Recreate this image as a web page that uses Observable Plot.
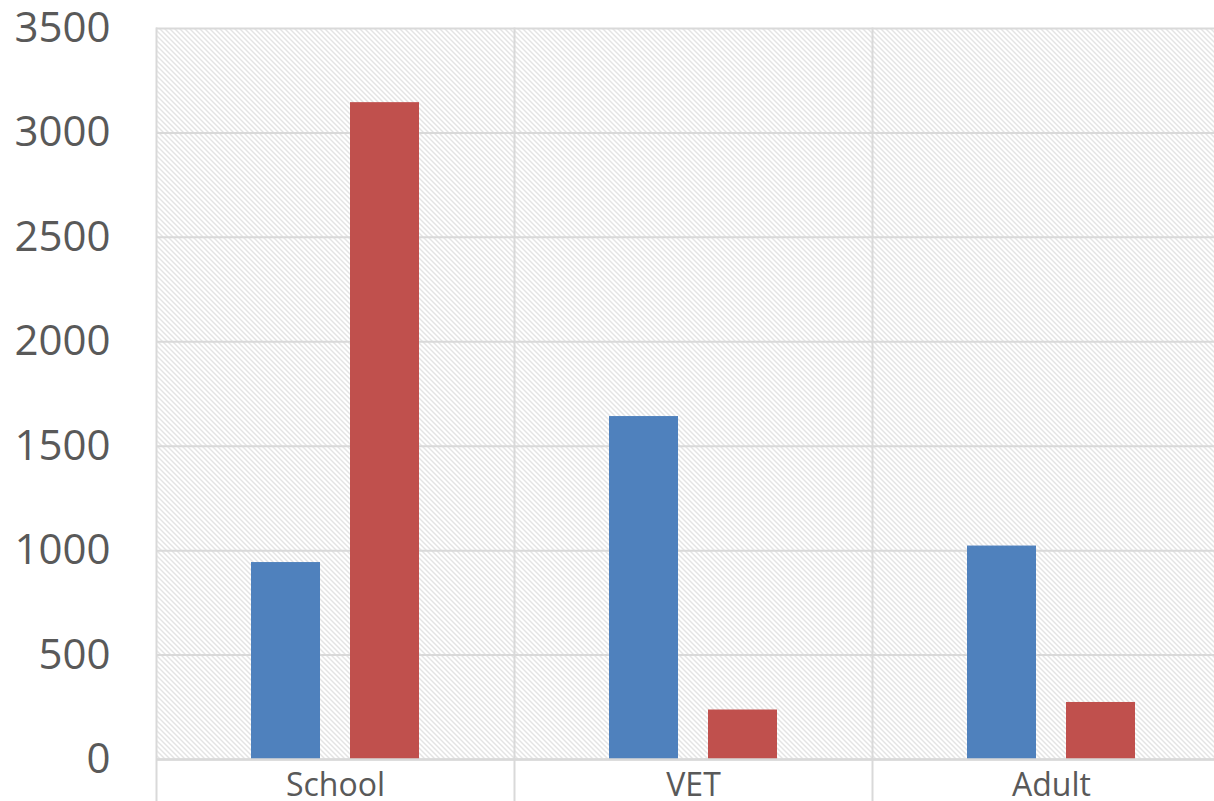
<!DOCTYPE html>
<html>
<head>
<meta charset="utf-8">
<script src="https://cdn.jsdelivr.net/npm/d3@7"></script>
<script src="https://cdn.jsdelivr.net/npm/@observablehq/plot@0.6"></script>
<style>
  html, body { margin: 0; padding: 0; background: #fff; overflow: hidden; }
  #chart { width: 1214px; height: 801px; overflow: hidden; }
  #chart svg { display: block; max-width: none !important; width: 1232px; height: 801px; }
</style>
</head>
<body>
<div id="chart"></div>
<script>
const categories = ["School", "VET", "Adult"];
const seriesNames = ["Series 1", "Series 2"];
const series1 = [943, 1642, 1022];
const series2 = [3145, 237, 273];
const yTicks = [0, 500, 1000, 1500, 2000, 2500, 3000, 3500];
const colors = ["#4f81bd", "#c0504d"];

const rows = [];
categories.forEach((c, i) => {
  rows.push({category: c, series: seriesNames[0], value: series1[i]});
  rows.push({category: c, series: seriesNames[1], value: series2[i]});
});

const font = "'Open Sans', 'Liberation Sans', sans-serif";

const chart = Plot.plot({
  width: 1232,
  height: 801,
  marginLeft: 155,
  marginRight: 1,
  marginTop: 28,
  marginBottom: 42,
  style: {fontFamily: font, background: "#fff", overflow: "visible", maxWidth: "none"},
  fx: {domain: categories, padding: 0, label: null},
  x: {domain: seriesNames, paddingInner: 0.3, paddingOuter: 0.9425, axis: null},
  y: {domain: [0, 3500], label: null},
  color: {domain: seriesNames, range: colors},
  marks: [
    Plot.frame({fill: "url(#hatch)", stroke: null}),
    Plot.gridY(yTicks, {stroke: "#d9d9d9", strokeOpacity: 1, strokeWidth: 2}),
    Plot.frame({anchor: "left", stroke: "#d9d9d9", strokeWidth: 2, insetBottom: -42}),
    Plot.barY(rows, {fx: "category", x: "series", y: "value", fill: "series"}),
    Plot.ruleY([0], {stroke: "#d9d9d9", strokeWidth: 2.5}),
    Plot.axisY(yTicks, {tickSize: 0, tickPadding: 46, fontSize: 42, fill: "#595959", label: null, tickFormat: d3.format("d")}),
    Plot.axisFx({anchor: "bottom", tickSize: 0, tickPadding: 14, fontSize: 32, fill: "#595959", label: null})
  ]
});

const defs = d3.select(chart).insert("defs", ":first-child");
const pat = defs.append("pattern")
  .attr("id", "hatch")
  .attr("patternUnits", "userSpaceOnUse")
  .attr("width", 5)
  .attr("height", 5);
pat.append("rect").attr("width", 5).attr("height", 5).attr("fill", "#ffffff");
pat.append("path")
  .attr("d", "M0,0L5,5M-1,4L1,6M4,-1L6,1")
  .attr("stroke", "#c8c8c8")
  .attr("stroke-width", 1)
  .attr("shape-rendering", "crispEdges");

document.getElementById("chart").appendChild(chart);
</script>
</body>
</html>
